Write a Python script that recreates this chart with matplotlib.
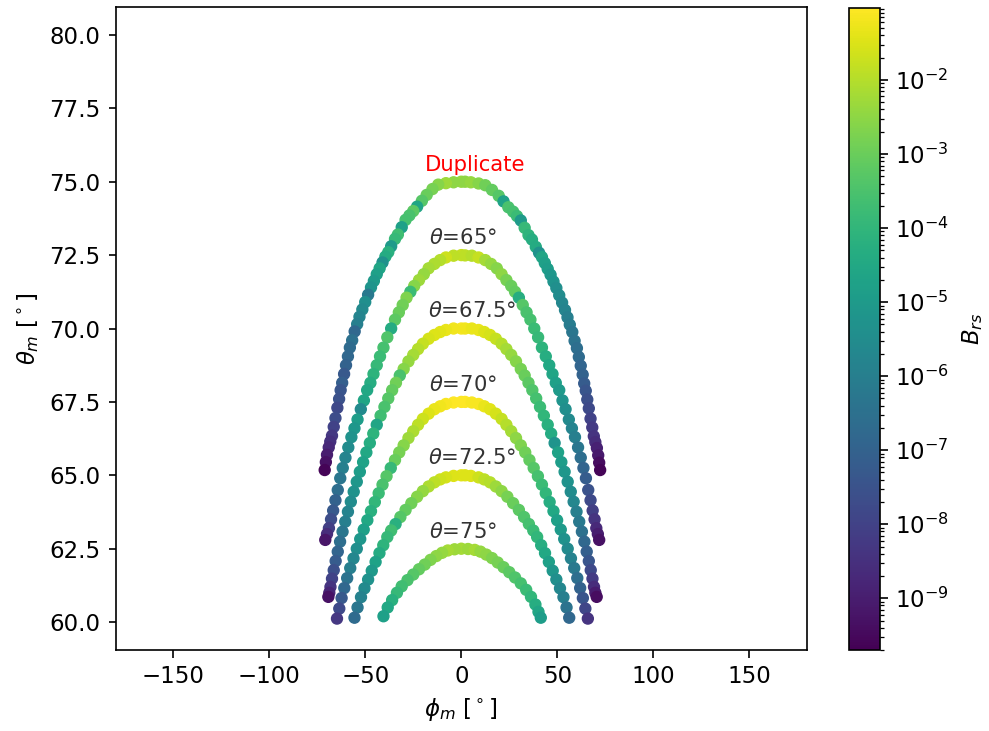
import matplotlib
matplotlib.use("Agg")
import matplotlib.pyplot as plt
import numpy as np
from matplotlib.colors import LogNorm

# Arc labels, the peak theta_m of each arc (deg) and where the label sits in phi
LABELS = ["Duplicate", r"$\theta$=65°", r"$\theta$=67.5°",
          r"$\theta$=70°", r"$\theta$=72.5°", r"$\theta$=75°"]
PEAKS = [75.0, 72.5, 70.0, 67.5, 65.0, 62.5]
LABEL_PHI = [7.0, 1.0, 5.5, 1.0, 5.5, 1.0]

# --- Duplicate arc ---
DUP_PHI_L = [0, -4, -8, -12, -15, -18, -20.5, -23, -25, -27, -29, -31, -33, -34.5, -36.5,
             -38, -39.5, -41, -42.5, -44, -45.5, -47, -48.5, -50, -51.5, -53, -54.2, -55.5,
             -56.8, -58, -59, -60, -61, -62, -62.8, -63.6, -64.5, -65.5, -66.4, -67.3,
             -68.2, -69, -69.9, -70.5, -71.1]
DUP_TH_L = [75.0, 74.98, 74.95, 74.9, 74.75, 74.55, 74.35, 74.15, 74.0, 73.85, 73.7, 73.45,
            73.2, 73.05, 72.8, 72.6, 72.45, 72.25, 72.05, 71.85, 71.62, 71.4, 71.15, 70.9,
            70.65, 70.4, 70.15, 69.9, 69.6, 69.35, 69.05, 68.75, 68.45, 68.15, 67.9, 67.6,
            67.3, 66.95, 66.65, 66.35, 66.15, 65.95, 65.7, 65.45, 65.18]
DUP_LB_L = [-2.4, -2.5, -2.3, -2.6, -2.8, -3.0, -3.3, -4.6, -3.2, -3.5, -3.6, -4.8, -3.7,
            -3.9, -5.0, -4.2, -4.4, -5.3, -4.6, -4.8, -5.0, -5.2, -6.2, -5.4, -5.6, -5.8,
            -6.0, -6.8, -6.5, -6.7, -6.8, -7.0, -7.3, -7.1, -7.4, -7.5, -7.8, -7.7, -8.0,
            -8.3, -8.5, -8.7, -9.0, -9.3, -9.6]
DUP_PHI_R = [2, 5, 9, 12.5, 16, 19.5, 22, 24.5, 27, 29, 31, 33, 35, 36.8, 38.8, 40.5, 42,
             43.5, 45, 46.5, 48, 49.5, 51, 52.5, 54, 55.3, 56.5, 57.8, 59, 60.2, 61.2, 62.2,
             63.2, 64, 64.8, 65.6, 66.4, 67.3, 68.2, 69, 69.8, 70.6, 71.3, 71.8, 72.3]
DUP_TH_R = [75.0, 74.98, 74.94, 74.88, 74.72, 74.52, 74.33, 74.13, 73.98, 73.83, 73.68,
            73.43, 73.18, 73.03, 72.78, 72.58, 72.43, 72.23, 72.03, 71.83, 71.6, 71.38,
            71.13, 70.88, 70.63, 70.38, 70.13, 69.88, 69.58, 69.33, 69.03, 68.73, 68.43,
            68.13, 67.88, 67.58, 67.28, 66.93, 66.63, 66.33, 66.13, 65.93, 65.68, 65.43,
            65.18]
DUP_LB_R = [-2.5, -2.4, -2.6, -2.9, -3.1, -3.3, -4.7, -3.5, -3.6, -3.8, -5.0, -3.9, -4.1,
            -4.3, -4.4, -5.3, -4.6, -4.8, -4.9, -5.1, -5.2, -5.4, -5.5, -5.7, -5.8, -6.0,
            -6.1, -6.3, -6.4, -6.6, -6.7, -6.9, -7.0, -7.2, -7.4, -7.6, -7.8, -8.0, -8.2,
            -8.4, -8.6, -8.9, -9.1, -9.4, -9.6]

# --- theta = 65 deg ---
T65_PHI_L = [0, -4, -8, -11, -14, -17, -19.5, -22, -24.5, -26.5, -28.5, -30.5, -32.5, -34.5,
             -36.5, -38.5, -40.5, -42.3, -44, -45.7, -47.3, -49, -50.7, -52.3, -54, -55.6,
             -57.2, -58.8, -60.3, -61.7, -63, -64.3, -65.5, -66.7, -67.8, -68.9, -69.9, -70.8]
T65_TH_L = [72.5, 72.48, 72.42, 72.33, 72.2, 72.05, 71.85, 71.65, 71.45, 71.25, 71.05, 70.8,
            70.55, 70.3, 70.0, 69.7, 69.35, 69.05, 68.75, 68.45, 68.15, 67.9, 67.55, 67.25,
            66.9, 66.6, 66.3, 65.95, 65.6, 65.25, 64.9, 64.5, 64.15, 63.8, 63.5, 63.2, 63.0,
            62.8]
T65_LB_L = [-1.8, -1.9, -1.7, -2.0, -2.1, -2.2, -2.4, -2.3, -2.6, -3.8, -2.7, -2.9, -3.0,
            -3.2, -4.4, -3.4, -3.6, -3.8, -3.9, -4.1, -4.3, -4.5, -4.6, -5.6, -4.9, -5.1,
            -5.3, -5.5, -5.8, -6.0, -6.3, -6.6, -7.0, -7.3, -7.7, -8.1, -8.6, -9.2]
T65_PHI_R = [2, 5.5, 9, 12.5, 15.5, 18.5, 21, 23.5, 26, 28, 30, 32, 34, 36, 38, 40, 42, 44,
             45.8, 47.5, 49.2, 51, 52.7, 54.3, 56, 57.6, 59.2, 60.8, 62.2, 63.6, 64.9, 66.1,
             67.3, 68.4, 69.4, 70.3, 71.1, 71.8]
T65_TH_R = [72.49, 72.48, 72.42, 72.33, 72.2, 72.05, 71.85, 71.65, 71.45, 71.25, 71.05, 70.8,
            70.55, 70.3, 70.0, 69.7, 69.35, 69.05, 68.75, 68.45, 68.15, 67.9, 67.55, 67.25,
            66.9, 66.6, 66.3, 65.95, 65.6, 65.25, 64.9, 64.5, 64.15, 63.8, 63.5, 63.2, 63.0,
            62.8]
T65_LB_R = [-1.9, -2.0, -1.8, -2.2, -2.4, -2.6, -2.5, -2.8, -3.0, -3.1, -4.3, -3.3, -3.5,
            -3.6, -3.8, -3.9, -4.1, -4.3, -4.5, -4.6, -4.8, -5.0, -5.2, -5.4, -5.6, -5.8,
            -6.0, -6.3, -6.6, -6.9, -7.2, -7.5, -7.8, -8.1, -8.4, -8.7, -9.0, -9.3]

# --- theta = 67.5 deg ---
T675_PHI_L = [0, -4, -8, -11, -14, -17, -20, -22.5, -25, -27.5, -30, -32, -34, -36, -38, -40,
              -42, -44, -45.8, -47.6, -49.4, -51.1, -52.8, -54.4, -56, -57.5, -59, -60.4,
              -61.8, -63.1, -64.3, -65.4, -66.4, -67.3, -68.1, -68.7, -69.2]
T675_TH_L = [70.0, 70.0, 69.95, 69.88, 69.78, 69.65, 69.48, 69.3, 69.1, 68.88, 68.62, 68.4,
             68.15, 67.9, 67.62, 67.33, 67.03, 66.72, 66.42, 66.1, 65.78, 65.45, 65.12,
             64.78, 64.44, 64.1, 63.76, 63.42, 63.08, 62.74, 62.4, 62.08, 61.77, 61.48,
             61.2, 61.0, 60.86]
T675_LB_L = [-1.1, -1.2, -1.3, -1.4, -1.5, -1.6, -1.8, -2.0, -2.2, -2.4, -2.6, -3.5, -2.9,
             -3.1, -3.3, -3.5, -3.7, -4.6, -4.1, -4.3, -4.5, -4.7, -4.9, -5.1, -5.3, -5.5,
             -5.8, -6.0, -6.3, -6.6, -6.9, -7.2, -7.6, -8.0, -8.4, -8.8, -9.3]
T675_PHI_R = [2, 5.5, 9, 12, 15, 18, 21, 23.5, 26, 28.5, 31, 33, 35, 37, 39, 41, 43, 45,
              46.8, 48.6, 50.4, 52.1, 53.8, 55.4, 57, 58.5, 60, 61.4, 62.8, 64.1, 65.3,
              66.4, 67.4, 68.3, 69.1, 69.8, 70.5]
T675_TH_R = [70.0, 70.0, 69.95, 69.88, 69.78, 69.65, 69.48, 69.3, 69.1, 68.88, 68.62, 68.4,
             68.15, 67.9, 67.62, 67.33, 67.03, 66.72, 66.42, 66.1, 65.78, 65.45, 65.12,
             64.78, 64.44, 64.1, 63.76, 63.42, 63.08, 62.74, 62.4, 62.08, 61.77, 61.48,
             61.2, 61.0, 60.86]
T675_LB_R = [-1.2, -1.3, -1.3, -1.5, -1.6, -1.8, -2.0, -2.2, -2.4, -2.6, -2.8, -3.0, -3.2,
             -3.4, -3.6, -3.8, -4.0, -4.2, -4.4, -5.2, -4.7, -4.9, -5.1, -5.3, -5.5, -5.7,
             -6.0, -6.2, -6.5, -6.8, -7.1, -7.4, -7.8, -8.2, -8.6, -9.0, -9.4]

# --- theta = 70 deg ---
T70_PHI_L = [0, -4, -8, -11, -14, -17, -20, -22.5, -25, -27.5, -30, -32.3, -34.5, -36.7,
             -38.9, -41, -43, -45, -47, -48.9, -50.8, -52.6, -54.4, -56.1, -57.8, -59.4,
             -60.9, -62.3, -63.5, -64.7]
T70_TH_L = [67.5, 67.48, 67.43, 67.35, 67.25, 67.1, 66.92, 66.72, 66.5, 66.27, 66.02, 65.78,
            65.52, 65.25, 64.97, 64.68, 64.39, 64.09, 63.78, 63.47, 63.15, 62.83, 62.5,
            62.17, 61.84, 61.5, 61.16, 60.82, 60.46, 60.12]
T70_LB_L = [-1.0, -1.0, -1.1, -1.2, -1.3, -1.5, -1.7, -1.9, -2.1, -2.3, -2.6, -2.8, -3.0,
            -3.9, -3.3, -3.5, -3.8, -4.0, -4.2, -4.5, -4.8, -5.1, -5.4, -5.7, -6.0, -6.4,
            -6.8, -7.3, -7.8, -8.3]
T70_PHI_R = [2, 5.5, 9, 12, 15, 18, 21, 23.5, 26, 28.5, 31, 33.3, 35.5, 37.7, 39.9, 42, 44,
             46, 48, 49.9, 51.8, 53.6, 55.4, 57.1, 58.8, 60.4, 61.9, 63.3, 64.6, 65.9]
T70_TH_R = [67.5, 67.48, 67.43, 67.35, 67.25, 67.1, 66.92, 66.72, 66.5, 66.27, 66.02, 65.78,
            65.52, 65.25, 64.97, 64.68, 64.39, 64.09, 63.78, 63.47, 63.15, 62.83, 62.5,
            62.17, 61.84, 61.5, 61.16, 60.82, 60.46, 60.12]
T70_LB_R = [-1.0, -1.1, -1.1, -1.3, -1.4, -1.6, -1.8, -2.0, -2.2, -2.5, -2.7, -2.9, -3.1,
            -3.3, -3.6, -3.8, -4.0, -4.3, -4.5, -4.8, -5.0, -5.3, -5.6, -5.9, -6.2, -6.6,
            -7.0, -7.4, -7.9, -8.4]

# --- theta = 72.5 deg ---
T725_PHI_L = [0, -4, -8, -11, -14, -17, -20, -23, -26, -29, -31.7, -34.2, -36.5, -38.5,
              -40.6, -42.6, -44.6, -46.6, -48.5, -50.4, -52.2, -54, -55.6]
T725_TH_L = [65.0, 64.98, 64.93, 64.86, 64.76, 64.62, 64.46, 64.27, 64.05, 63.82, 63.58,
             63.34, 63.12, 62.9, 62.62, 62.35, 62.05, 61.75, 61.45, 61.15, 60.85, 60.5, 60.15]
T725_LB_L = [-1.4, -1.5, -1.6, -1.7, -1.9, -2.1, -2.4, -2.6, -2.9, -3.1, -3.3, -4.2, -3.7,
             -3.9, -4.1, -4.4, -4.7, -5.0, -5.3, -5.6, -5.9, -6.3, -6.7]
T725_PHI_R = [2, 5, 9, 12, 15, 18, 21, 24, 27, 30, 32.7, 35.2, 37.5, 39.5, 41.6, 43.6, 45.6,
              47.6, 49.5, 51.4, 53.2, 54.8, 56.2]
T725_TH_R = [65.0, 64.98, 64.93, 64.86, 64.76, 64.62, 64.46, 64.27, 64.05, 63.82, 63.58,
             63.34, 63.12, 62.9, 62.62, 62.35, 62.05, 61.75, 61.45, 61.15, 60.85, 60.5, 60.15]
T725_LB_R = [-1.5, -1.5, -1.7, -1.9, -2.0, -2.3, -2.5, -2.8, -3.0, -3.2, -3.4, -3.6, -3.8,
             -4.0, -4.3, -4.5, -4.8, -5.1, -5.4, -5.7, -6.0, -6.4, -6.8]

# --- theta = 75 deg ---
T75_PHI_L = [0, -3.5, -7, -10, -13, -16, -19, -22, -25, -28, -31, -33.5, -36, -38.3, -40.5]
T75_TH_L = [62.5, 62.48, 62.44, 62.36, 62.25, 62.12, 61.96, 61.8, 61.62, 61.43, 61.22, 61.0,
            60.75, 60.5, 60.2]
T75_LB_L = [-2.2, -2.3, -2.2, -2.4, -2.5, -2.7, -2.9, -3.1, -3.3, -3.5, -3.7, -3.9, -4.2,
            -4.5, -4.8]
T75_PHI_R = [3.5, 7, 10, 13, 16, 19, 22, 25, 28, 31, 33.8, 36.3, 38.6, 40.2, 41.4]
T75_TH_R = [62.49, 62.46, 62.4, 62.3, 62.18, 62.03, 61.87, 61.7, 61.52, 61.32, 61.1, 60.86,
            60.6, 60.35, 60.15]
T75_LB_R = [-2.3, -2.2, -2.4, -2.5, -2.7, -2.8, -3.0, -3.2, -3.4, -3.6, -3.8, -4.0, -4.3,
            -4.6, -4.9]

ARCS = [
    (DUP_PHI_L + DUP_PHI_R, DUP_TH_L + DUP_TH_R, DUP_LB_L + DUP_LB_R),
    (T65_PHI_L + T65_PHI_R, T65_TH_L + T65_TH_R, T65_LB_L + T65_LB_R),
    (T675_PHI_L + T675_PHI_R, T675_TH_L + T675_TH_R, T675_LB_L + T675_LB_R),
    (T70_PHI_L + T70_PHI_R, T70_TH_L + T70_TH_R, T70_LB_L + T70_LB_R),
    (T725_PHI_L + T725_PHI_R, T725_TH_L + T725_TH_R, T725_LB_L + T725_LB_R),
    (T75_PHI_L + T75_PHI_R, T75_TH_L + T75_TH_R, T75_LB_L + T75_LB_R),
]

B_MIN, B_MAX = 2.0e-10, 9.4e-2

# the reference was rendered at ~1.55x the default scale
plt.rcParams.update({
    "font.size": 16,
    "axes.linewidth": 1.2,
    "axes.labelpad": 6.0,
    "xtick.labelsize": 16.5, "ytick.labelsize": 16.5,
    "xtick.major.size": 5.4, "ytick.major.size": 5.4,
    "xtick.major.width": 1.2, "ytick.major.width": 1.2,
    "xtick.minor.size": 3.1, "ytick.minor.size": 3.1,
    "xtick.minor.width": 0.9, "ytick.minor.width": 0.9,
    "xtick.major.pad": 5.4, "ytick.major.pad": 5.4,
})

fig = plt.figure(figsize=(9.89, 7.31), dpi=100)
ax = fig.add_axes([0.1168, 0.1108, 0.6992, 0.8796])
cax = fig.add_axes([0.8584, 0.1108, 0.0313, 0.8783])

norm = LogNorm(vmin=B_MIN, vmax=B_MAX)
sc = None
for (phi, th, lb), lab, peak, lx in zip(ARCS, LABELS, PEAKS, LABEL_PHI):
    sc = ax.scatter(phi, th, c=10.0 ** np.array(lb), cmap="viridis", norm=norm, s=62)
    ax.text(lx, peak + 0.58, lab, ha="center", va="center", fontsize=15.2,
            color="red" if lab == "Duplicate" else "#333333")

ax.set_xlim(-180, 180)
ax.set_ylim(59.05, 80.95)
ax.set_xticks([-150, -100, -50, 0, 50, 100, 150])
ax.set_yticks(np.arange(60, 80.1, 2.5))
ax.set_xlabel(r"$\phi_m$ [$^\circ$]", fontsize=16.5)
ax.set_ylabel(r"$\theta_m$ [$^\circ$]", fontsize=16.5)

cb = fig.colorbar(sc, cax=cax)
cb.set_label(r"$B_{rs}$", labelpad=8, fontsize=16.5)

fig.savefig("out.png", dpi=100)
